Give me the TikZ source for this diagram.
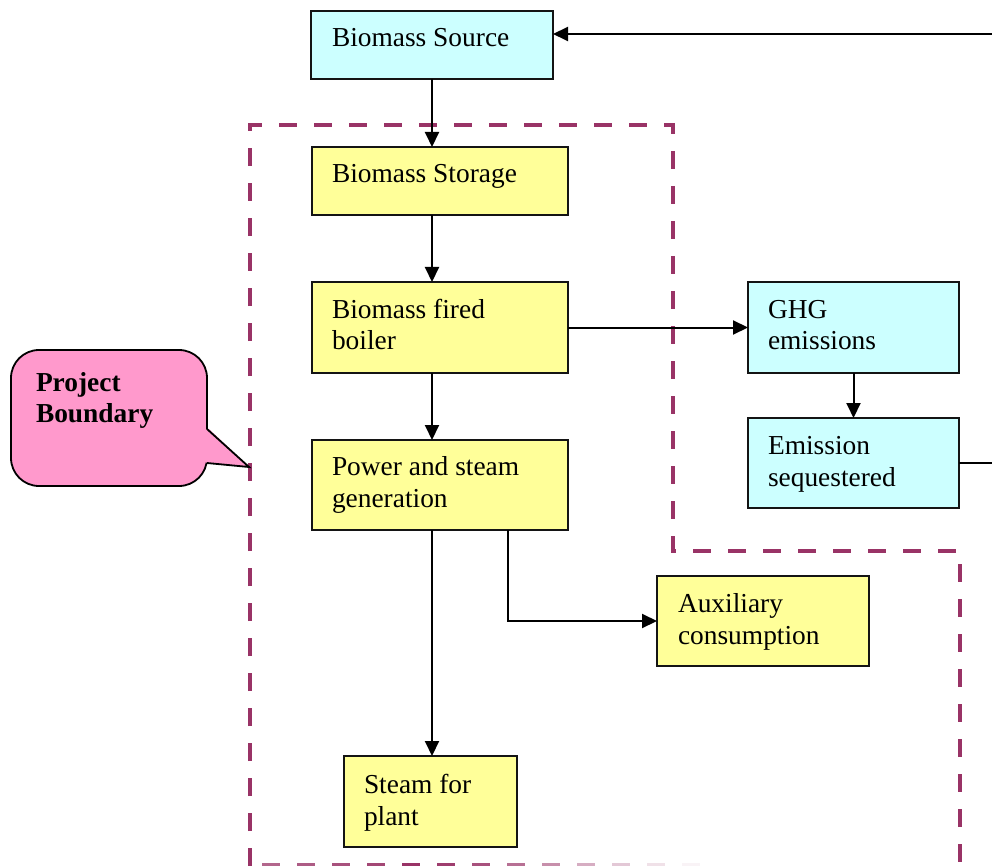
\documentclass[tikz,border=0pt]{standalone}
\usepackage{fontspec}
\setmainfont{Liberation Serif}
\usetikzlibrary{arrows.meta,calc}
\definecolor{cyanf}{HTML}{CCFFFF}
\definecolor{ylwf}{HTML}{FFFF99}
\definecolor{pinkf}{HTML}{FF99CC}
\definecolor{plum}{HTML}{993366}
\begin{document}
\begin{tikzpicture}[x=1pt,y=-1pt,
 box/.style={draw=black!92, line width=2pt, inner sep=0pt, outer sep=0pt},
 cbox/.style={box, fill=cyanf},
 ybox/.style={box, fill=ylwf},
 txt/.style={anchor=base west, inner sep=0pt, outer sep=0pt, font=\fontsize{27.4}{32}\selectfont},
 arr/.style={line width=2pt, -{Triangle[length=15pt,width=14pt]}},
 lin/.style={line width=2pt},
 bnd/.style={draw=plum, line width=3.6pt, dash pattern=on 18pt off 17pt},
 callout/.style={draw=black, line width=1.8pt, fill=pinkf, rounded corners=28pt, inner sep=0pt, outer sep=0pt},
]
\useasboundingbox (0,0) rectangle (992,866);

% project boundary
\draw[bnd] (250,866) -- (250,125) -- (673,125) -- (673,551) -- (960,551) -- (960,866);
\foreach \i/\o in {0/0.75,1/0.8,2/0.85,3/0.9,4/1,5/0.95,6/0.85,7/0.7,8/0.55,9/0.4,10/0.27,11/0.15,12/0.06}
  \draw[plum, opacity=\o, line width=3.6pt] ({262+35*\i},865) -- ({280+35*\i},865);

% boxes
\node[cbox, minimum width=242pt, minimum height=68pt] (src) at (432,45) {};
\node[ybox, minimum width=256pt, minimum height=68pt] (sto) at (440,181) {};
\node[ybox, minimum width=256pt, minimum height=91pt] (boil) at (440,327.5) {};
\node[ybox, minimum width=256pt, minimum height=90pt] (pw) at (440,485) {};
\node[cbox, minimum width=211pt, minimum height=91pt] (ghg) at (853.5,327.5) {};
\node[cbox, minimum width=211pt, minimum height=90pt] (seq) at (853.5,463) {};
\node[ybox, minimum width=212pt, minimum height=90pt] (aux) at (763,621) {};
\node[ybox, minimum width=173pt, minimum height=91pt] (stp) at (430.5,801.5) {};

% texts
\node[txt] (srct) at ($(src.north west)+(21,36)$) {Biomass Source};
\node[txt] (stot) at ($(sto.north west)+(20,36)$) {Biomass Storage};
\node[txt] (boilt) at ($(boil.north west)+(20,36)$) {\parbox[t]{230pt}{Biomass fired\\boiler}};
\node[txt] (pwt) at ($(pw.north west)+(20,35)$) {\parbox[t]{230pt}{Power and steam\\generation}};
\node[txt] (ghgt) at ($(ghg.north west)+(20,36)$) {\parbox[t]{190pt}{GHG\\emissions}};
\node[txt] (seqt) at ($(seq.north west)+(20,36)$) {\parbox[t]{190pt}{Emission\\sequestered}};
\node[txt] (auxt) at ($(aux.north west)+(21,36)$) {\parbox[t]{190pt}{Auxiliary\\consumption}};
\node[txt] (stpt) at ($(stp.north west)+(20,37)$) {\parbox[t]{150pt}{Steam for\\plant}};

% outer ends
\coordinate (re1) at (992,34);
\coordinate (re2) at (992,463);

% connectors
\draw[arr] (re1) -- (re1 -| src.east);
\draw[arr] (src.south) -- (src.south |- sto.north);
\draw[arr] (src.south |- sto.south) -- (src.south |- boil.north);
\draw[arr] (src.south |- boil.south) -- (src.south |- pw.north);
\draw[arr] (src.south |- pw.south) -- (src.south |- stp.north);
\draw[arr] ($(pw.south east)+(-60,0)$) |- (aux.west);
\draw[arr] (boil.east) -- (ghg.west);
\draw[arr] (ghg.south) -- (seq.north);
\draw[lin] (seq.east) -- (re2);

% callout
\node[callout, minimum width=196pt, minimum height=136pt] (cb) at (109,418) {};
\fill[pinkf] (203,430) -- (209,429) -- (249,467) -- (209,463) -- (203,462) -- cycle;
\draw[line width=1.8pt, line join=miter] (207,429) -- (249,467) -- (207,463);
\node[txt, font=\fontsize{27.4}{31.5}\selectfont\bfseries] (cbt) at (36,391) {\parbox[t]{160pt}{Project\\Boundary}};
\end{tikzpicture}
\end{document}
